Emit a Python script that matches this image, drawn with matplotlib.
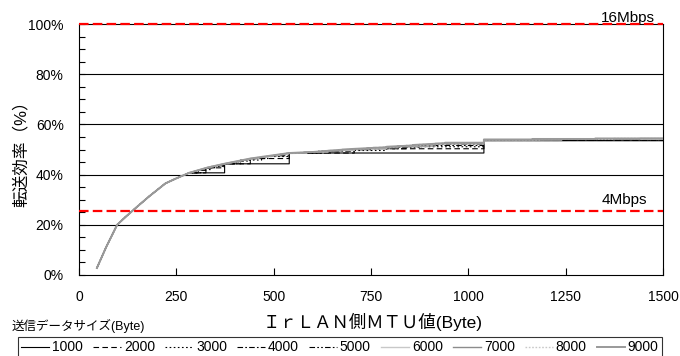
import matplotlib
matplotlib.use("Agg")
import matplotlib.pyplot as plt
from matplotlib.ticker import MultipleLocator, FuncFormatter

plt.rcParams['font.family'] = ['Liberation Sans', 'Noto Sans CJK JP', 'DejaVu Sans']

# MTU (Byte) と 転送効率 (%) : 送信データサイズ別
s1000_x = [46, 70, 98, 120, 150, 180, 222, 250, 283, 374, 374, 540, 540, 1040, 1040, 1500]
s1000_y = [2.8, 11.2, 20, 23.2, 27.3, 31.3, 36.5, 38.5, 40.7, 40.7, 44.3, 44.3, 48.6, 48.6, 53.5, 53.5]

s2000_x = [46, 70, 98, 120, 150, 180, 222, 250, 283, 326, 326, 373, 373, 440, 440, 540, 540,
           707, 707, 1040, 1040, 1500]
s2000_y = [2.8, 11.2, 20, 23.2, 27.3, 31.3, 36.5, 38.5, 40.7, 40.7, 42.7, 42.7, 44.3, 44.3, 46.4, 46.4, 48.6,
           48.6, 50.3, 50.3, 53.6, 53.6]

s3000_x = [46, 70, 98, 120, 150, 180, 222, 250, 283, 313, 313, 340, 340, 373, 373, 415, 415, 469, 469,
           540, 540, 640, 640, 790, 790, 1040, 1040, 1500]
s3000_y = [2.8, 11.2, 20, 23.2, 27.3, 31.3, 36.5, 38.5, 40.7, 40.7, 42.0, 42.0, 43.3, 43.3, 44.3, 44.3, 45.8, 45.8, 47.2,
           47.2, 48.6, 48.6, 49.6, 49.6, 51.1, 51.1, 53.7, 53.7]

s4000_x = [46, 70, 98, 120, 150, 180, 222, 250, 283, 307, 307, 326, 326, 348, 348, 373, 373, 404, 404,
           440, 440, 485, 485, 540, 540, 611, 611, 707, 707, 840, 840, 1040, 1040, 1373, 1373, 1500]
s4000_y = [2.8, 11.2, 20, 23.2, 27.3, 31.3, 36.5, 38.5, 40.7, 40.7, 41.7, 41.7, 42.7, 42.7, 43.5, 43.5, 44.3, 44.3, 45.4,
           45.4, 46.4, 46.4, 47.5, 47.5, 48.6, 48.6, 49.3, 49.3, 50.3, 50.3, 51.6, 51.6, 53.7, 53.7, 54.3, 54.3]

s5000_x = [46, 70, 98, 120, 150, 180, 222, 250, 283, 320, 373, 440, 500, 540, 596, 596, 665, 665,
           755, 755, 874, 874, 1040, 1040, 1290, 1290, 1500]
s5000_y = [2.8, 11.2, 20, 23.2, 27.3, 31.3, 36.5, 38.5, 40.7, 42.2, 44.0, 46.0, 47.6, 48.6, 48.6, 49.1, 49.1, 49.9,
           49.9, 50.8, 50.8, 52.0, 52.0, 53.8, 53.8, 54.1, 54.1]

s6000_x = [46, 70, 98, 120, 150, 180, 222, 250, 283, 330, 373, 440, 540, 585, 585, 640, 640, 707, 707,
           790, 790, 897, 897, 1040, 1040, 1240, 1240, 1500]
s6000_y = [2.8, 11.2, 20, 23.2, 27.3, 31.3, 36.5, 38.5, 40.7, 42.8, 44.2, 46.2, 48.4, 48.6, 49.0, 49.0, 49.6, 49.6, 50.3,
           50.3, 51.1, 51.1, 52.2, 52.2, 53.8, 53.8, 54.1, 54.1]

s7000_x = [46, 70, 98, 120, 150, 180, 222, 250, 283, 330, 373, 440, 540, 578, 578, 623, 623, 676, 676,
           740, 740, 818, 818, 915, 915, 1040, 1040, 1207, 1207, 1440, 1440, 1500]
s7000_y = [2.8, 11.2, 20, 23.2, 27.3, 31.3, 36.5, 38.5, 40.7, 42.8, 44.3, 46.3, 48.5, 48.6, 49.0, 49.0, 49.4, 49.4, 50.0,
           50.0, 50.7, 50.7, 51.4, 51.4, 52.4, 52.4, 53.9, 53.9, 54.1, 54.1, 54.4, 54.4]

s8000_x = [46, 70, 98, 120, 150, 180, 222, 250, 283, 330, 373, 440, 540, 600, 700, 800, 929, 929,
           1040, 1040, 1183, 1183, 1373, 1373, 1500]
s8000_y = [2.8, 11.2, 20, 23.2, 27.3, 31.3, 36.5, 38.5, 40.7, 42.8, 44.3, 46.4, 48.6, 49.0, 50.1, 51.0, 52.2, 52.7,
           52.7, 53.9, 53.9, 54.1, 54.1, 54.4, 54.4]

s9000_x = [46, 70, 98, 120, 150, 180, 222, 250, 283, 330, 373, 440, 540, 600, 700, 790, 790, 858, 858,
           940, 940, 1040, 1040, 1165, 1165, 1326, 1326, 1500]
s9000_y = [2.8, 11.2, 20, 23.2, 27.3, 31.3, 36.5, 38.5, 40.7, 42.8, 44.3, 46.4, 48.6, 49.0, 50.2, 50.9, 51.1, 51.6, 51.8,
           52.5, 52.7, 52.7, 54.0, 54.0, 54.2, 54.2, 54.4, 54.4]

labels = ['1000', '2000', '3000', '4000', '5000', '6000', '7000', '8000', '9000']
xs = [s1000_x, s2000_x, s3000_x, s4000_x, s5000_x, s6000_x, s7000_x, s8000_x, s9000_x]
ys = [s1000_y, s2000_y, s3000_y, s4000_y, s5000_y, s6000_y, s7000_y, s8000_y, s9000_y]

# 回線速度の上限
rate_16m = 100
rate_4m = 25.5

styles = [
    dict(color='black', lw=0.8, ls='-'),
    dict(color='black', lw=0.8, ls=(0, (5, 3))),
    dict(color='black', lw=0.8, ls=(0, (1.5, 2.2))),
    dict(color='black', lw=0.8, ls=(0, (5, 2, 1.5, 2))),
    dict(color='black', lw=0.8, ls=(0, (5, 2, 1.5, 2, 1.5, 2))),
    dict(color='#c8c8c8', lw=1.0, ls='-'),
    dict(color='#8c8c8c', lw=1.0, ls='-'),
    dict(color='#c8c8c8', lw=1.0, ls=(0, (1.2, 1.2))),
    dict(color='#999999', lw=1.4, ls='-'),
]

fig = plt.figure(figsize=(6.8, 3.56), dpi=100)
ax = fig.add_axes([79/680, 1-275/356, 584/680, 251/356])

for y in [20, 40, 60, 80]:
    ax.axhline(y, color='black', lw=0.8, zorder=1)

for x, y, lab, st in zip(xs, ys, labels, styles):
    ax.plot(x, y, label=lab, zorder=3, **st)

ax.axhline(rate_16m, color='#ff0000', lw=1.6, ls=(0, (4.3, 1.9)), zorder=4, clip_on=False)
ax.axhline(rate_4m, color='#ff0000', lw=1.6, ls=(0, (4.3, 1.9)), zorder=4)
ax.text(1480, 99.6, '16Mbps', ha='right', va='bottom', fontsize=11)
ax.text(1400, 27.0, '4Mbps', ha='center', va='bottom', fontsize=11)

ax.set_xlim(0, 1500)
ax.set_ylim(0, 100)
ax.xaxis.set_major_locator(MultipleLocator(250))
ax.yaxis.set_major_locator(MultipleLocator(20))
ax.yaxis.set_minor_locator(MultipleLocator(5))
ax.yaxis.set_major_formatter(FuncFormatter(lambda v, p: '%d%%' % v))
ax.tick_params(axis='both', which='both', direction='in', labelsize=10, width=0.8)
ax.tick_params(axis='x', length=5, pad=11)
ax.tick_params(axis='y', which='major', length=4, pad=11)
ax.tick_params(axis='y', which='minor', length=4)
for sp in ax.spines.values():
    sp.set_linewidth(0.8)

ax.set_xlabel('ＩｒＬＡＮ側ＭＴＵ値(Byte)', fontsize=12.5)
ax.xaxis.set_label_coords(0.502, -0.15)
ax.set_ylabel('転送効率（%）', fontsize=12)
ax.yaxis.set_label_coords(-0.086, 0.5)

fig.text(12/680, 1-326/356, '送信データサイズ(Byte)', fontsize=9, va='center', ha='left')

leg = fig.legend(loc='upper left', bbox_to_anchor=(18/680, 1-337/356), ncol=9, fontsize=10,
                 handlelength=2.0, handletextpad=0.2, columnspacing=0.75, borderpad=0.25,
                 borderaxespad=0, fancybox=False, frameon=True, edgecolor='black')
leg.get_frame().set_linewidth(0.8)

fig.savefig('out.png', dpi=100)
